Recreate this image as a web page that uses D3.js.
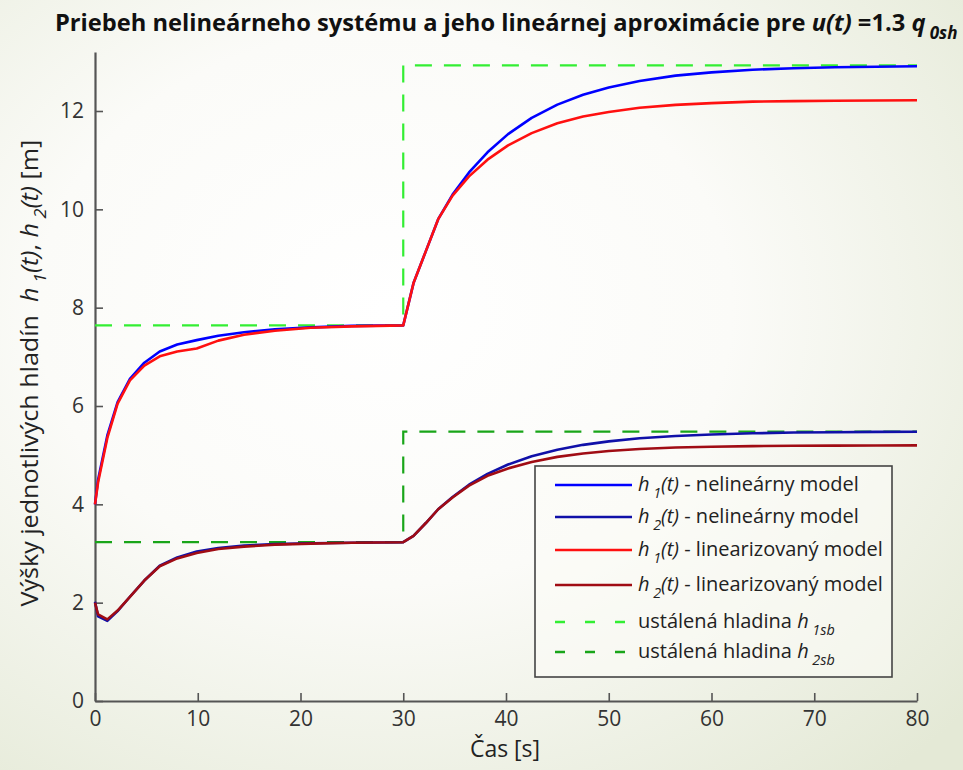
<!DOCTYPE html>
<html lang="sk">
<head>
<meta charset="utf-8">
<script src="https://d3js.org/d3.v7.min.js"></script>
<style>
  body { margin: 0; }
  svg text { font-family: "Open Sans", "DejaVu Sans", sans-serif; white-space: pre; }
</style>
</head>
<body>
<svg id="chart" width="963" height="770"></svg>
<script>
// simulation time [s]
var time = [0, 0.3, 1.2, 2.2, 3.4, 4.8, 6.3, 8, 9.9, 12, 14.5, 17.5, 21, 25, 30,
  31, 32.2, 33.4, 34.8, 36.4, 38.2, 40.2, 42.5, 45, 47.5, 50, 53, 56.5, 60, 64, 68, 72, 76, 80];

// levels [m]
var h1Nonlin = [4.0, 4.5, 5.4, 6.08, 6.55, 6.88, 7.11, 7.25, 7.34, 7.43, 7.5, 7.56, 7.6, 7.63, 7.64,
  8.5, 9.15, 9.8, 10.3, 10.75, 11.16, 11.53, 11.86, 12.13, 12.33, 12.48, 12.61, 12.72, 12.785, 12.84, 12.87, 12.89, 12.9, 12.91];
var h2Nonlin = [2.02, 1.72, 1.63, 1.83, 2.12, 2.45, 2.75, 2.92, 3.04, 3.11, 3.16, 3.19, 3.21, 3.22, 3.23,
  3.36, 3.62, 3.9, 4.15, 4.4, 4.62, 4.81, 4.98, 5.11, 5.21, 5.28, 5.345, 5.39, 5.42, 5.445, 5.46, 5.467, 5.473, 5.476];
var h1Lin = [4.0, 4.45, 5.35, 6.05, 6.52, 6.82, 7.01, 7.11, 7.17, 7.33, 7.45, 7.53, 7.59, 7.62, 7.64,
  8.5, 9.15, 9.8, 10.28, 10.67, 11.01, 11.3, 11.55, 11.75, 11.89, 11.98, 12.065, 12.125, 12.16, 12.19, 12.2, 12.21, 12.215, 12.22];
var h2Lin = [2.0, 1.76, 1.66, 1.84, 2.12, 2.45, 2.74, 2.9, 3.01, 3.09, 3.14, 3.18, 3.2, 3.22, 3.23,
  3.36, 3.62, 3.9, 4.14, 4.38, 4.58, 4.73, 4.86, 4.965, 5.035, 5.085, 5.125, 5.155, 5.172, 5.184, 5.19, 5.195, 5.197, 5.2];

// steady state levels
var steadyTime = [0, 30, 30, 80];
var h1Steady = [7.64, 7.64, 12.93, 12.93];
var h2Steady = [3.23, 3.23, 5.48, 5.48];

var xTicks = [0, 10, 20, 30, 40, 50, 60, 70, 80];
var yTicks = [0, 2, 4, 6, 8, 10, 12];

var svg = d3.select('#chart');
var W = 963, H = 770;
var margin = { top: 52, right: 46, bottom: 69, left: 95 },
  width = W - margin.left - margin.right,
  height = H - margin.top - margin.bottom;

// background gradient
var defs = svg.append('defs');
var grad = defs.append('radialGradient')
  .attr('id', 'bg')
  .attr('cx', '40%').attr('cy', '40%').attr('r', '80%');
grad.append('stop').attr('offset', '0%').attr('stop-color', '#ffffff');
grad.append('stop').attr('offset', '45%').attr('stop-color', '#fbfbf8');
grad.append('stop').attr('offset', '100%').attr('stop-color', '#e4e9d6');
svg.append('rect').attr('width', W).attr('height', H).attr('fill', 'url(#bg)');

// draws text made of parts: {t, i (italic), sub}
function richText(sel, parts, size) {
  var subShift = size * 0.35;
  var down = false;
  parts.forEach(function(p) {
    var ts = sel.append('tspan').text(p.t);
    if (p.i) ts.style('font-style', 'italic');
    if (p.sub) {
      ts.attr('font-size', size * 0.72).attr('dy', subShift).attr('dx', size * 0.18);
      down = true;
    } else if (down) {
      ts.attr('dy', -subShift);
      down = false;
    }
  });
}

var g = svg.append('g')
  .attr('transform', 'translate(' + margin.left + ',' + margin.top + ')');

var x = d3.scaleLinear().domain([0, 80]).range([0, width]);
var y = d3.scaleLinear().domain([0, 13.2]).range([height, 0]);

// axes with inward ticks
var xAxis = d3.axisBottom(x).tickValues(xTicks).tickSize(-8).tickSizeOuter(0).tickPadding(14);
var yAxis = d3.axisLeft(y).tickValues(yTicks).tickSize(-8).tickSizeOuter(0).tickPadding(11);

var gx = g.append('g').attr('transform', 'translate(0,' + height + ')').call(xAxis);
var gy = g.append('g').call(yAxis);
[gx, gy].forEach(function(a) {
  a.select('.domain').attr('stroke', '#555').attr('stroke-width', 2.2);
  a.selectAll('.tick line').attr('stroke', '#555').attr('stroke-width', 1.6);
  a.selectAll('.tick text')
    .attr('fill', '#333')
    .attr('font-size', 21)
    .style('font-family', '"Open Sans", sans-serif');
});
gx.selectAll('.tick text').attr('dy', '0.5em');

// lines
function series(vals, ts) {
  return vals.map(function(v, i) { return [ts[i], v]; });
}
var line = d3.line().x(d => x(d[0])).y(d => y(d[1]));

var steadySeries = [
  { data: series(h1Steady, steadyTime), color: '#33ee33' },
  { data: series(h2Steady, steadyTime), color: '#19a519' }
];
var curves = [
  { data: series(h2Nonlin, time), color: '#1010a8' },
  { data: series(h2Lin, time), color: '#a00c14' },
  { data: series(h1Nonlin, time), color: '#0000ff' },
  { data: series(h1Lin, time), color: '#ff1010' }
];

g.selectAll('.steady')
  .data(steadySeries)
  .enter()
  .append('path')
  .attr('class', 'steady')
  .attr('d', d => line(d.data))
  .attr('fill', 'none')
  .attr('stroke', d => d.color)
  .attr('stroke-width', 2.2)
  .attr('stroke-dasharray', '17,12');

g.selectAll('.curve')
  .data(curves)
  .enter()
  .append('path')
  .attr('class', 'curve')
  .attr('d', d => line(d.data))
  .attr('fill', 'none')
  .attr('stroke', d => d.color)
  .attr('stroke-width', 2.6)
  .attr('stroke-linejoin', 'round');

// legend
var legendItems = [
  { color: '#0000ff', dash: null, parts: [{ t: 'h', i: 1 }, { t: '1', i: 1, sub: 1 }, { t: '(t)', i: 1 }, { t: ' - nelineárny model' }] },
  { color: '#1010a8', dash: null, parts: [{ t: 'h', i: 1 }, { t: '2', i: 1, sub: 1 }, { t: '(t)', i: 1 }, { t: ' - nelineárny model' }] },
  { color: '#ff1010', dash: null, parts: [{ t: 'h', i: 1 }, { t: '1', i: 1, sub: 1 }, { t: '(t)', i: 1 }, { t: ' - linearizovaný model' }] },
  { color: '#a00c14', dash: null, parts: [{ t: 'h', i: 1 }, { t: '2', i: 1, sub: 1 }, { t: '(t)', i: 1 }, { t: ' - linearizovaný model' }] },
  { color: '#33ee33', dash: '10,20', parts: [{ t: 'ustálená hladina ' }, { t: 'h', i: 1 }, { t: '1sb', i: 1, sub: 1 }] },
  { color: '#19a519', dash: '10,20', parts: [{ t: 'ustálená hladina ' }, { t: 'h', i: 1 }, { t: '2sb', i: 1, sub: 1 }] }
];

var lg = svg.append('g').attr('transform', 'translate(535,466)');
lg.append('rect')
  .attr('width', 357).attr('height', 211)
  .attr('fill', '#fbfbf7').attr('fill-opacity', 0.6)
  .attr('stroke', '#444').attr('stroke-width', 1.6);

var rowY = [19, 51, 84, 119, 156, 186];
legendItems.forEach(function(it, i) {
  lg.append('line')
    .attr('x1', 20).attr('x2', 97)
    .attr('y1', rowY[i]).attr('y2', rowY[i])
    .attr('stroke', it.color).attr('stroke-width', 2.4)
    .attr('stroke-dasharray', it.dash);
  var t = lg.append('text')
    .attr('x', 103).attr('y', rowY[i] + 6)
    .attr('font-size', 20).attr('fill', '#222');
  richText(t, it.parts, 20);
});

// title
var title = svg.append('text')
  .attr('x', 0).attr('y', 0)
  .attr('font-size', 24).attr('font-weight', 'bold').attr('fill', '#111');
richText(title, [
  { t: 'Priebeh nelineárneho systému a jeho lineárnej aproximácie pre ' },
  { t: 'u(t)', i: 1 }, { t: ' =1.3 ' }, { t: 'q', i: 1 }, { t: '0sh', i: 1, sub: 1 }
], 24);
var tw = title.node().getBBox().width;
title.attr('transform', 'translate(55,31) scale(' + (903 / tw) + ',1)');

// axis labels
svg.append('text')
  .attr('x', 505).attr('y', 757)
  .attr('text-anchor', 'middle').attr('font-size', 23).attr('fill', '#222')
  .text('Čas [s]');

var yl = svg.append('text')
  .attr('font-size', 23).attr('fill', '#222');
richText(yl, [
  { t: 'Výšky jednotlivých hladín  ' }, { t: 'h', i: 1 }, { t: '1', i: 1, sub: 1 }, { t: '(t)', i: 1 },
  { t: ', ' }, { t: 'h', i: 1 }, { t: '2', i: 1, sub: 1 }, { t: '(t)', i: 1 }, { t: ' [m]' }
], 23);
var yw = yl.node().getBBox().width;
var ys = 467 / yw;
yl.attr('transform', 'translate(38,' + (373 + 467 / 2) + ') rotate(-90) scale(' + ys + ',1)');
</script>
</body>
</html>
